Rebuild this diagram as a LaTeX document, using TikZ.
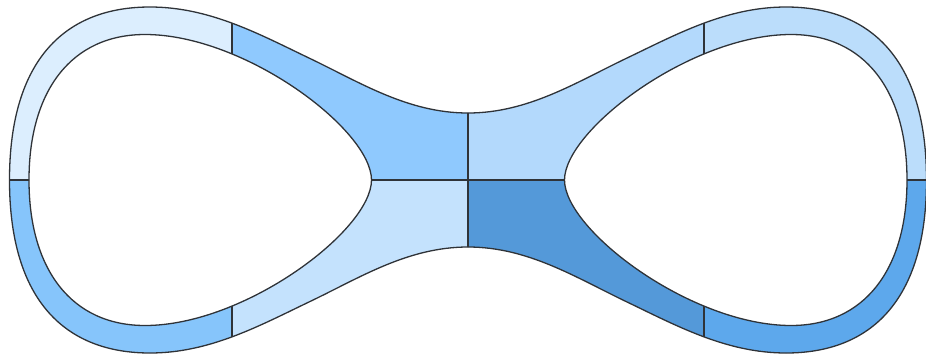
\documentclass[tikz,border=0pt]{standalone}
\usepackage{tikz}
\definecolor{outline}{HTML}{2F3338}
\definecolor{paleblue}{HTML}{DCEEFE}
\definecolor{skyblue}{HTML}{8FC9FE}
\definecolor{softblue}{HTML}{B3D9FC}
\definecolor{mistblue}{HTML}{BBDDFB}
\definecolor{midblue}{HTML}{86C5FB}
\definecolor{iceblue}{HTML}{C4E2FD}
\definecolor{deepblue}{HTML}{5499D9}
\definecolor{oceanblue}{HTML}{5DA8EC}

\def\outercurve{(9.5,180) .. controls (9.5,59) and (65.7,7) .. (150,7)
  .. controls (210,7) and (260,34.6) .. (310,58.5)
  .. controls (360,82.4) and (408,113) .. (468,113)
  .. controls (528,113) and (576,82.4) .. (626,58.5)
  .. controls (676,34.6) and (726,7) .. (786,7)
  .. controls (870.3,7) and (926.5,59) .. (926.5,180)
  .. controls (926.5,301) and (870.3,353) .. (786,353)
  .. controls (726,353) and (676,325.4) .. (626,301.5)
  .. controls (576,277.6) and (528,247) .. (468,247)
  .. controls (408,247) and (360,277.6) .. (310,301.5)
  .. controls (260,325.4) and (210,353) .. (150,353)
  .. controls (65.7,353) and (9.5,301) .. (9.5,180) -- cycle}
\def\innerleft{(29,180) .. controls (29,90) and (72,34.5) .. (145,34.5)
  .. controls (245,34.5) and (371.5,130) .. (371.5,180)
  .. controls (371.5,230) and (245,325.5) .. (145,325.5)
  .. controls (72,325.5) and (29,270) .. (29,180) -- cycle}
\def\innerright{(907,180) .. controls (907,90) and (864,34.5) .. (791,34.5)
  .. controls (691,34.5) and (564.5,130) .. (564.5,180)
  .. controls (564.5,230) and (691,325.5) .. (791,325.5)
  .. controls (864,325.5) and (907,270) .. (907,180) -- cycle}

\begin{document}
\begin{tikzpicture}[x=1pt,y=-1pt,
  band/.style={draw=outline,line width=1.3pt},
  seam/.style={draw=outline,line width=1.3pt}
]
  \useasboundingbox (0,0) rectangle (926,354);
  \begin{scope}[even odd rule]
    \clip \outercurve \innerleft \innerright;
    % upper half
    \fill[paleblue] (0,0) rectangle (232,180);
    \fill[skyblue] (232,0) rectangle (468,180);
    \fill[softblue] (468,0) rectangle (704,180);
    \fill[mistblue] (704,0) rectangle (940,180);
    % lower half
    \fill[midblue] (0,180) rectangle (232,360);
    \fill[iceblue] (232,180) rectangle (468,360);
    \fill[deepblue] (468,180) rectangle (704,360);
    \fill[oceanblue] (704,180) rectangle (940,360);
    \foreach \cut in {232,468,704}
      \draw[seam] (\cut,0) -- (\cut,360);
    \draw[seam] (0,180) -- (940,180);
  \end{scope}
  \draw[band] \outercurve \innerleft \innerright;
\end{tikzpicture}
\end{document}
